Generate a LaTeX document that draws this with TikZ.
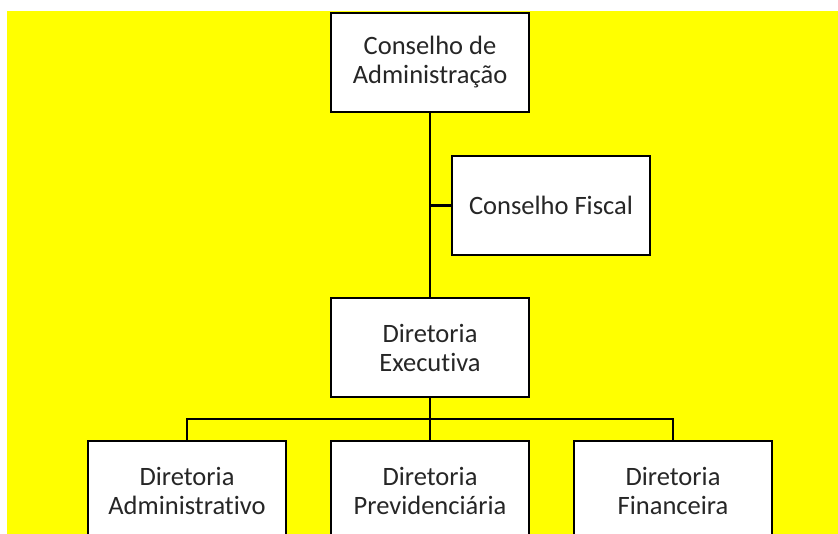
\documentclass[tikz,border=0pt]{standalone}
\usepackage{fontspec}
\setmainfont[Ligatures=NoCommon]{Carlito}
\usetikzlibrary{positioning, calc}
\definecolor{bgyellow}{RGB}{255,255,0}
\definecolor{textgray}{RGB}{38,38,38}

\begin{document}
\begin{tikzpicture}[x=1pt, y=-1pt]
    \tikzstyle{orgbox} = [rectangle, draw=black, line width=2.6pt, fill=white, minimum width=198pt, minimum height=99pt, align=center, text=textgray, font=\fontsize{26.5}{29}\selectfont]
    \tikzstyle{link} = [line width=2.4pt, black]

    \useasboundingbox (0,0) rectangle (838,534);
    \fill[bgyellow] (7,11) rectangle (838,534);

    \node[orgbox] (adm) at (430,62.5) {Conselho de\\Administração};
    \node[orgbox] (fiscal) at (551,205.5) {Conselho Fiscal};
    \node[orgbox] (exe) at (430,347.5) {Diretoria\\Executiva};
    \node[orgbox] (diradm) at (187,490.5) {Diretoria\\Administrativo};
    \node[orgbox] (dirprev) at (430,490.5) {Diretoria\\Previdenciária};
    \node[orgbox] (dirfin) at (673,490.5) {Diretoria\\Financeira};
    \coordinate (bus) at (430,419);

    \draw[link] (adm) -- (exe);
    \draw[link] (fiscal.west) -- (fiscal.west -| adm.south);
    \draw[link] (exe) -- (dirprev);
    \draw[link] (diradm.north) |- (bus) -| (dirfin.north);
\end{tikzpicture}
\end{document}
